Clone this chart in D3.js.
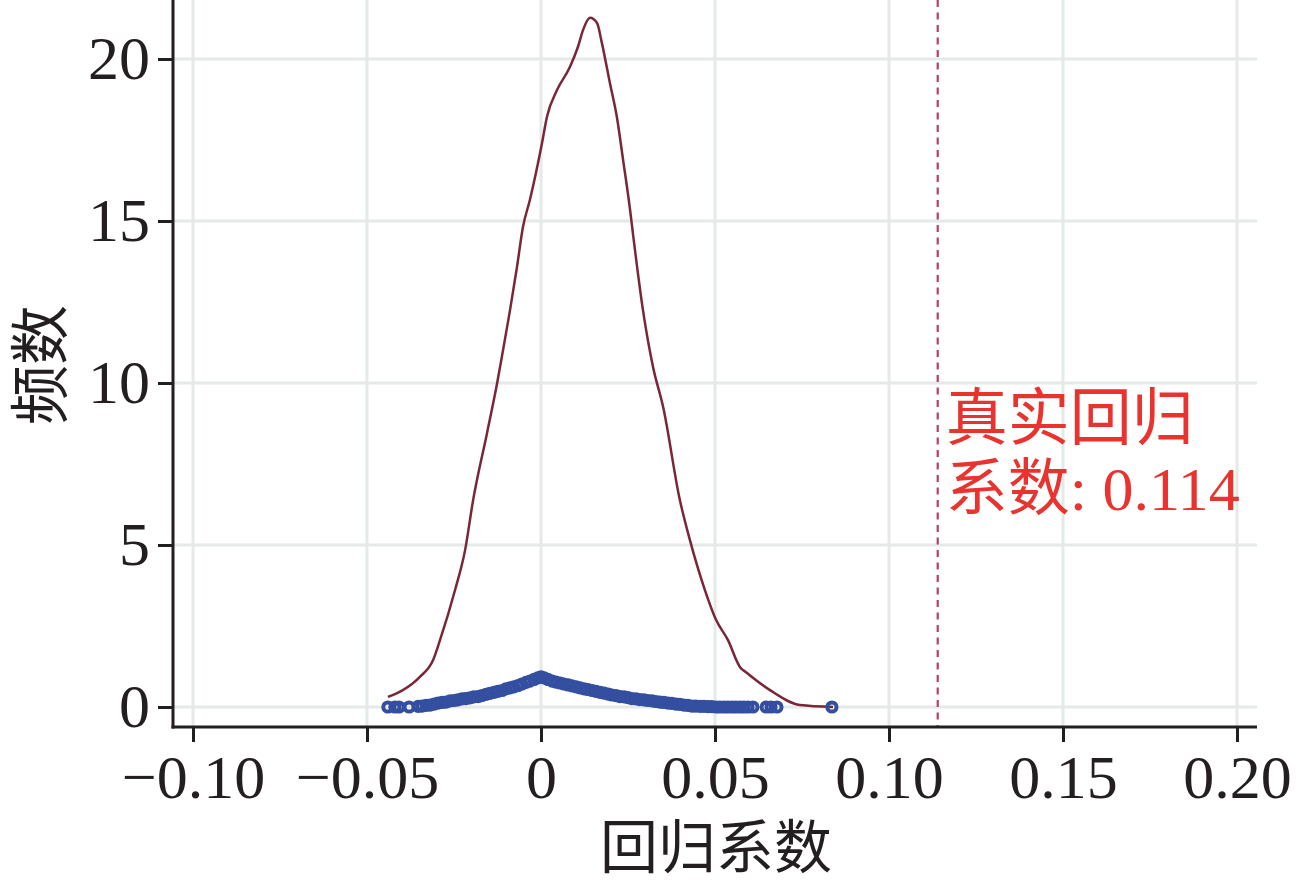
<!DOCTYPE html>
<html>
<head>
<meta charset="utf-8">
<script src="https://cdn.jsdelivr.net/npm/d3@7"></script>
<style>
  body { margin: 0; background: #fff; }
  text { font-family: "Liberation Serif", "Noto Sans CJK SC", serif; }
</style>
</head>
<body>
<script>
// density curve
const curveX = [-0.044, -0.0397, -0.0348, -0.031, -0.029, -0.0247, -0.0218, -0.0195, -0.0155, -0.0126,
  -0.0109, -0.0089, -0.0069, -0.0052, -0.0032, 0.0003, 0.0017, 0.0046, 0.0083, 0.0106,
  0.0121, 0.0141, 0.0161, 0.0175, 0.0198, 0.0218, 0.0236, 0.0256, 0.0264, 0.0293,
  0.0322, 0.0351, 0.0399, 0.0428, 0.0471, 0.0503, 0.0537, 0.0572, 0.0592, 0.0658,
  0.0744, 0.0839]
const curveY = [0.31, 0.52, 0.93, 1.45, 2.07, 3.61, 4.85, 6.39, 8.46, 10.0,
  11.02, 12.25, 13.58, 14.81, 15.65, 17.41, 18.21, 19.04, 19.75, 20.37,
  20.9, 21.27, 21.11, 20.49, 19.26, 18.21, 16.88, 15.34, 14.63, 12.25,
  10.49, 9.26, 6.39, 5.15, 3.61, 2.69, 2.07, 1.23, 1.05, 0.52,
  0.06, 0.0]

// sample points (blue circles)
const pointX = [-0.044, -0.042, -0.0408, -0.0379, -0.0353, -0.0342, -0.033, -0.0319, -0.0307, -0.0296,
  -0.0284, -0.0273, -0.0261, -0.025, -0.0239, -0.0227, -0.0216, -0.0204, -0.0193, -0.0181,
  -0.017, -0.0158, -0.0147, -0.0135, -0.0124, -0.0112, -0.0101, -0.0089, -0.0078, -0.0066,
  -0.0055, -0.0043, -0.0032, -0.002, -0.0009, 0.0, 0.0009, 0.002, 0.0032, 0.0043,
  0.0055, 0.0066, 0.0078, 0.0089, 0.0101, 0.0112, 0.0124, 0.0135, 0.0147, 0.0158,
  0.017, 0.0181, 0.0193, 0.0204, 0.0216, 0.0227, 0.0239, 0.025, 0.0261, 0.0273,
  0.0284, 0.0296, 0.0307, 0.0319, 0.033, 0.0342, 0.0353, 0.0365, 0.0376, 0.0388,
  0.0399, 0.0411, 0.0422, 0.0434, 0.0445, 0.0457, 0.0468, 0.048, 0.0491, 0.0503,
  0.0514, 0.0526, 0.0537, 0.0549, 0.056, 0.0572, 0.0583, 0.0595, 0.0609, 0.0647,
  0.0661, 0.0678, 0.0836]
const pointY = [0.0, 0.0, 0.0, 0.0, 0.02, 0.03, 0.05, 0.06, 0.09, 0.12,
  0.14, 0.15, 0.19, 0.2, 0.22, 0.25, 0.26, 0.28, 0.31, 0.32,
  0.35, 0.39, 0.42, 0.45, 0.48, 0.51, 0.56, 0.59, 0.62, 0.66,
  0.71, 0.76, 0.8, 0.85, 0.9, 0.93, 0.9, 0.85, 0.8, 0.77,
  0.74, 0.71, 0.68, 0.65, 0.62, 0.59, 0.56, 0.54, 0.51, 0.48,
  0.45, 0.43, 0.4, 0.37, 0.35, 0.32, 0.31, 0.29, 0.26, 0.25,
  0.23, 0.22, 0.2, 0.19, 0.17, 0.15, 0.14, 0.12, 0.11, 0.09,
  0.08, 0.06, 0.05, 0.03, 0.03, 0.02, 0.02, 0.01, 0.01, 0.0,
  0.0, 0.0, 0.0, 0.0, 0.0, 0.0, 0.0, 0.0, 0.0, 0.0,
  0.0, 0.0, 0.0]

const trueCoef = 0.114
const xTicks = [-0.1, -0.05, 0, 0.05, 0.1, 0.15, 0.2]
const xTickLabels = ["\u22120.10", "\u22120.05", "0", "0.05", "0.10", "0.15", "0.20"]
const yTicks = [0, 5, 10, 15, 20]
const yTickLabels = ["0", "5", "10", "15", "20"]

const w = 1299
const h = 883
const left = 173
const right = 1257
const bottom = 727

const svg = d3.select("body").append("svg").attr("width", w).attr("height", h)

const xScale = d3.scaleLinear().domain([-0.1, 0.2]).range([193, 1237])
const yScale = d3.scaleLinear().domain([0, 20]).range([707, 59])

const gridColor = "#e3eae8"

// gridlines
svg.append("g")
  .selectAll("line")
  .data(xTicks)
  .enter()
  .append("line")
  .attr("x1", (d) => xScale(d))
  .attr("x2", (d) => xScale(d))
  .attr("y1", 0)
  .attr("y2", bottom)
  .attr("stroke", gridColor)
  .attr("stroke-width", 3)

svg.append("g")
  .selectAll("line")
  .data(yTicks)
  .enter()
  .append("line")
  .attr("x1", left)
  .attr("x2", right)
  .attr("y1", (d) => yScale(d))
  .attr("y2", (d) => yScale(d))
  .attr("stroke", gridColor)
  .attr("stroke-width", 3)

// density curve
const line = d3.line()
  .x((d, i) => xScale(curveX[i]))
  .y((d, i) => yScale(curveY[i]))
  .curve(d3.curveMonotoneX)

svg.append("path")
  .attr("d", line(curveX))
  .attr("fill", "none")
  .attr("stroke", "#7a2639")
  .attr("stroke-width", 2.5)

// points
svg.append("g")
  .selectAll("circle")
  .data(pointX)
  .enter()
  .append("circle")
  .attr("cx", (d) => xScale(d))
  .attr("cy", (d, i) => yScale(pointY[i]))
  .attr("r", 4.6)
  .attr("fill", "none")
  .attr("stroke", "#344ea0")
  .attr("stroke-width", 4)

// true coefficient
svg.append("line")
  .attr("x1", xScale(trueCoef))
  .attr("x2", xScale(trueCoef))
  .attr("y1", 0)
  .attr("y2", bottom)
  .attr("stroke", "#b33f6b")
  .attr("stroke-width", 2.2)
  .attr("stroke-dasharray", "7,5.5")

const label = svg.append("text")
  .attr("fill", "#e8332f")
  .attr("font-size", 62)
label.append("tspan").attr("x", xScale(trueCoef) + 8).attr("y", 440).text("真实回归")
label.append("tspan").attr("x", xScale(trueCoef) + 8).attr("y", 510).text("系数: " + trueCoef.toFixed(3))

// axes
const xAxis = d3.axisBottom(xScale)
  .tickValues(xTicks)
  .tickFormat((d, i) => xTickLabels[i])
  .tickSize(15)
  .tickSizeOuter(0)
  .tickPadding(12)

const gx = svg.append("g").attr("transform", `translate(0,${bottom})`).call(xAxis)
gx.select(".domain").remove()
gx.selectAll(".tick line").attr("stroke", "#231f20").attr("stroke-width", 3)
gx.selectAll(".tick text").attr("font-size", 62).attr("fill", "#231f20")
  .attr("font-family", "Liberation Serif")

const yAxis = d3.axisLeft(yScale)
  .tickValues(yTicks)
  .tickFormat((d, i) => yTickLabels[i])
  .tickSize(15)
  .tickSizeOuter(0)
  .tickPadding(8)

const gy = svg.append("g").attr("transform", `translate(${left},0)`).call(yAxis)
gy.select(".domain").remove()
gy.selectAll(".tick line").attr("stroke", "#231f20").attr("stroke-width", 3)
gy.selectAll(".tick text").attr("font-size", 62).attr("fill", "#231f20")
  .attr("font-family", "Liberation Serif")

svg.append("line")
  .attr("x1", left).attr("x2", left)
  .attr("y1", 0).attr("y2", bottom + 1.5)
  .attr("stroke", "#231f20").attr("stroke-width", 3)
svg.append("line")
  .attr("x1", left - 1.5).attr("x2", right)
  .attr("y1", bottom).attr("y2", bottom)
  .attr("stroke", "#231f20").attr("stroke-width", 3)

// titles
svg.append("text")
  .attr("x", 716)
  .attr("y", 868)
  .attr("text-anchor", "middle")
  .attr("font-size", 58)
  .attr("fill", "#231f20")
  .text("回归系数")

svg.append("text")
  .attr("transform", "translate(62,365) rotate(-90)")
  .attr("text-anchor", "middle")
  .attr("font-size", 60)
  .attr("fill", "#231f20")
  .text("频数")
</script>
</body>
</html>
